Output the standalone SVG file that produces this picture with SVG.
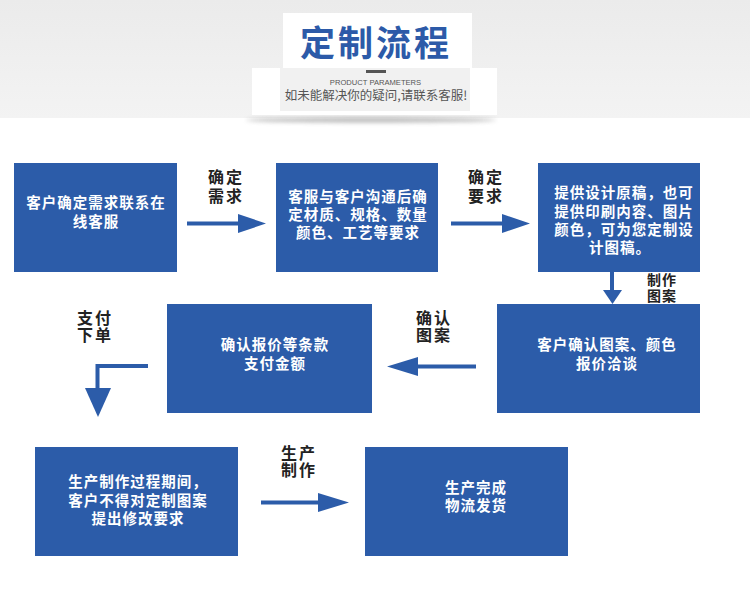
<svg xmlns="http://www.w3.org/2000/svg" width="750" height="593" viewBox="0 0 750 593">
<defs>
<linearGradient id="hdr" x1="0" y1="0" x2="0" y2="1">
<stop offset="0" stop-color="#ebebeb"/>
<stop offset="1" stop-color="#f3f3f3"/>
</linearGradient>
<filter id="blur" x="-20%" y="-200%" width="140%" height="500%"><feGaussianBlur stdDeviation="2"/></filter>
<style>
.box{fill:#2c5ca9}
.bt{fill:#ffffff;font-family:"Noto Sans CJK SC","Noto Sans",sans-serif;font-weight:700;font-size:14.5px;letter-spacing:1px;text-anchor:middle}
.lb{fill:#222222;font-family:"Noto Sans CJK SC","Noto Sans",sans-serif;font-weight:700;font-size:16px;letter-spacing:2px}
.ar{fill:#2c5ca9}
.sh{stroke:#2c5ca9;stroke-width:4;fill:none}
</style>
</defs>
<rect x="0" y="0" width="750" height="593" fill="#ffffff"/>
<g id="header">
<rect x="0" y="0" width="750" height="118" fill="url(#hdr)"/>
<ellipse cx="371" cy="120" rx="125" ry="2.5" fill="#8a8a8a" opacity="0.6" filter="url(#blur)"/>
<line x1="60" y1="137" x2="684" y2="137" stroke="#e4e4ea" stroke-width="2" opacity="0.7" filter="url(#blur)"/>
<rect x="283" y="13" width="189" height="55" fill="#ffffff"/>
<rect x="252" y="68" width="245" height="47" fill="#ffffff"/>
<rect x="280" y="68" width="190" height="43" fill="#f1f1f1"/>
<text x="376" y="56" text-anchor="middle" font-family="'Noto Sans CJK SC',sans-serif" font-weight="700" font-size="35px" letter-spacing="3px" fill="#2c5aa8">定制流程</text>
<rect x="366" y="70" width="20" height="3" fill="#555555"/>
<text x="375.5" y="85" text-anchor="middle" font-family="'Liberation Sans',Arial,sans-serif" font-size="7.6px" fill="#555555">PRODUCT  PARAMETERS</text>
<text x="376" y="100" text-anchor="middle" font-family="'Noto Sans CJK SC',sans-serif" font-size="12.5px" fill="#555555">如未能解决你的疑问,请联系客服!</text>
</g>
<g id="n1">
<rect class="box" x="14" y="163" width="163" height="109"/>
<text class="bt"><tspan x="96" y="208">客户确定需求联系在</tspan><tspan x="96" y="227">线客服</tspan></text>
</g>
<g id="n2">
<rect class="box" x="276" y="163" width="162" height="109"/>
<text class="bt"><tspan x="358" y="202">客服与客户沟通后确</tspan><tspan x="358" y="220">定材质、规格、数量</tspan><tspan x="358" y="238">颜色、工艺等要求</tspan></text>
</g>
<g id="n3">
<rect class="box" x="538" y="163" width="162" height="109"/>
<text class="bt"><tspan x="624" y="198">提供设计原稿，也可</tspan><tspan x="624" y="217">提供印刷内容、图片</tspan><tspan x="624" y="235">颜色，可为您定制设</tspan><tspan x="620" y="253">计图稿。</tspan></text>
</g>
<g id="n4">
<rect class="box" x="167" y="304" width="205" height="109"/>
<text class="bt"><tspan x="275" y="350">确认报价等条款</tspan><tspan x="275" y="369">支付金额</tspan></text>
</g>
<g id="n5">
<rect class="box" x="497" y="304" width="203" height="109"/>
<text class="bt"><tspan x="607" y="350">客户确认图案、颜色</tspan><tspan x="607" y="369">报价洽谈</tspan></text>
</g>
<g id="n6">
<rect class="box" x="35" y="447" width="203" height="109"/>
<text class="bt"><tspan x="138" y="487">生产制作过程期间，</tspan><tspan x="138" y="506">客户不得对定制图案</tspan><tspan x="138" y="524">提出修改要求</tspan></text>
</g>
<g id="n7">
<rect class="box" x="365" y="447" width="203" height="109"/>
<text class="bt"><tspan x="476" y="493">生产完成</tspan><tspan x="476" y="511">物流发货</tspan></text>
</g>
<g id="connectors">
<line class="sh" x1="187" y1="223.5" x2="239" y2="223.5"/>
<polygon class="ar" points="238,214 266,223.5 238,233"/>
<text class="lb"><tspan x="208" y="183">确定</tspan><tspan x="208" y="202">需求</tspan></text>
<line class="sh" x1="451" y1="223.5" x2="503" y2="223.5"/>
<polygon class="ar" points="502,214 530,223.5 502,233"/>
<text class="lb"><tspan x="468" y="183">确定</tspan><tspan x="468" y="202">要求</tspan></text>
<line class="sh" x1="612" y1="272" x2="612" y2="291"/>
<polygon class="ar" points="603,290 622,290 612.5,304"/>
<text class="lb" style="font-size:14px;letter-spacing:1px"><tspan x="647" y="285">制作</tspan><tspan x="647" y="301">图案</tspan></text>
<line class="sh" x1="476" y1="366.5" x2="417" y2="366.5"/>
<polygon class="ar" points="418,357 387,366.5 418,376"/>
<text class="lb"><tspan x="416" y="324">确认</tspan><tspan x="416" y="341">图案</tspan></text>
<path class="sh" d="M148 366 H97.5 V389"/>
<polygon class="ar" points="85,388 111,388 98,417"/>
<text class="lb"><tspan x="77" y="324">支付</tspan><tspan x="77" y="341">下单</tspan></text>
<line class="sh" x1="261" y1="502.5" x2="319" y2="502.5"/>
<polygon class="ar" points="318,493 349,502.5 318,512"/>
<text class="lb"><tspan x="281" y="459">生产</tspan><tspan x="281" y="476">制作</tspan></text>
</g>
</svg>
